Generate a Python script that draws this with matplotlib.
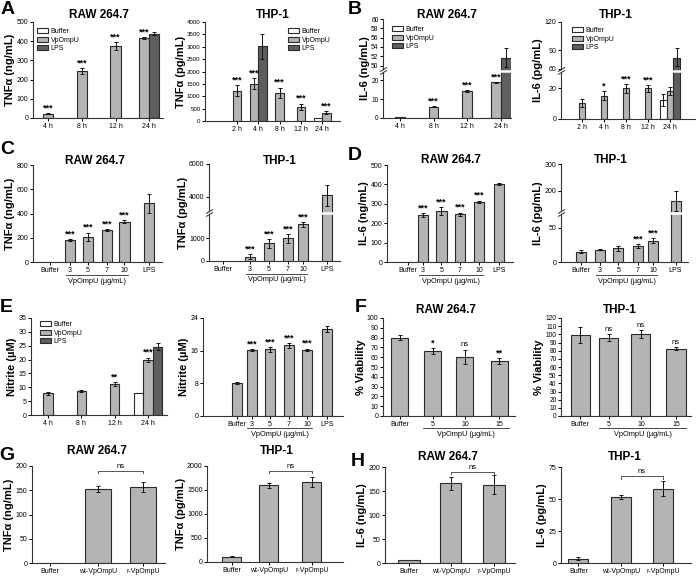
import numpy as np
import matplotlib.pyplot as plt
import matplotlib.transforms as mtransforms
from matplotlib.patches import Patch

plt.rcParams['font.family'] = ['Liberation Sans', 'DejaVu Sans']
plt.rcParams['font.size'] = 5
plt.rcParams['axes.linewidth'] = 0.8
plt.rcParams['axes.edgecolor'] = '#333333'
plt.rcParams['xtick.major.size'] = 2
plt.rcParams['ytick.major.size'] = 2
plt.rcParams['xtick.major.width'] = 0.7
plt.rcParams['ytick.major.width'] = 0.7
plt.rcParams['xtick.major.pad'] = 1.5
plt.rcParams['ytick.major.pad'] = 1.2
plt.rcParams['xtick.labelsize'] = 5
plt.rcParams['ytick.labelsize'] = 5

W, H = 696, 578
BUF, VP, LPS = 'white', '#b4b4b4', '#5e5e5e'
EDGE = '#2b2b2b'
nan = np.nan

# ---------------- data ----------------
time4 = ['4 h', '8 h', '12 h', '24 h']
time5 = ['2 h', '4 h', '8 h', '12 h', '24 h']
dose6 = ['Buffer', '3', '5', '7', '10', 'LPS']
dose4 = ['Buffer', '5', '10', '15']
mutant = ['Buffer', 'wt-VpOmpU', 'r-VpOmpU']

# A  TNFa time course
a_raw_vp = [23, 245, 375, 415]
a_raw_vp_err = [3, 16, 20, 5]
a_raw_lps = [nan, nan, nan, 438]
a_raw_lps_err = [0, 0, 0, 8]
a_thp_buf = [nan, nan, nan, nan, 130]
a_thp_buf_err = [0, 0, 0, 0, 0]
a_thp_vp = [1220, 1500, 1130, 580, 330]
a_thp_vp_err = [220, 220, 220, 120, 60]
a_thp_lps = [nan, 3020, nan, nan, nan]
a_thp_lps_err = [0, 500, 0, 0, 0]

# B  IL-6 time course
b_raw_buf = [nan, nan, nan, 0.2]
b_raw_vp = [0.3, 5.9, 14.2, 19.0]
b_raw_vp_err = [0, 0.3, 0.6, 0.2]
b_raw_lps = [nan, nan, nan, 51.7]
b_raw_lps_err = [0, 0, 0, 2.0]
b_thp_buf = [nan, nan, nan, nan, 12.4]
b_thp_buf_err = [0, 0, 0, 0, 3.8]
b_thp_vp = [10.6, 15.2, 20.0, 20.0, 18.3]
b_thp_vp_err = [2.5, 3.0, 2.8, 2.4, 2.5]
b_thp_lps = [nan, nan, nan, nan, 78]
b_thp_lps_err = [0, 0, 0, 0, 14]

# C  TNFa dose response
c_raw = [nan, 178, 207, 265, 331, 483]
c_raw_err = [0, 8, 35, 6, 12, 80]
c_thp = [nan, 190, 780, 1000, 1620, 4080]
c_thp_err = [0, 120, 190, 190, 100, 650]

# D  IL-6 dose response
d_raw = [2, 241, 262, 247, 310, 403]
d_raw_err = [0, 11, 19, 8, 6, 5]
d_thp = [15, 18, 20, 22.8, 31, 161]
d_thp_err = [2.4, 1.0, 3.4, 2.7, 4.0, 39]

# E  nitrite
e_raw_buf = [nan, nan, nan, 8.1]
e_raw_vp = [7.8, 8.7, 11.2, 19.9]
e_raw_vp_err = [0.5, 0.5, 0.8, 0.8]
e_raw_lps = [nan, nan, nan, 24.7]
e_raw_lps_err = [0, 0, 0, 1.2]
e_dose = [8.1, 16.2, 16.3, 17.3, 16.2, 21.3]
e_dose_err = [0.2, 0.2, 0.6, 0.6, 0.3, 0.8]

# F  viability
f_raw = [80, 66, 60.5, 56]
f_raw_err = [2.5, 3, 7, 2.8]
f_thp = [99, 96, 100.4, 82.4]
f_thp_err = [10, 4, 4.5, 1.6]

# G / H  wt vs recombinant
g_raw = [1, 153, 157]
g_raw_err = [0, 6, 10]
g_thp = [110, 1600, 1665]
g_thp_err = [15, 50, 110]
h_raw = [7, 166, 163]
h_raw_err = [0, 14, 20]
h_thp = [3.5, 51.5, 58]
h_thp_err = [1.2, 1.5, 6]

fig = plt.figure(figsize=(W / 100, H / 100), dpi=100)


def panel(box, cats, pos, xlim, bw, series, ylim, yticks, ylabel,
          marks=(), scale=None, brk=None, dose=None, bracket=None, shift=None, tick_fs=5):
    x0, y0, x1, y1 = box
    ax = fig.add_axes([x0 / W, 1 - y1 / H, (x1 - x0) / W, (y1 - y0) / H])
    if scale is not None:
        xs, fs = scale
        ax.set_yscale('function',
                      functions=(lambda y, xs=xs, fs=fs: np.interp(y, xs, fs),
                                 lambda f, xs=xs, fs=fs: np.interp(f, fs, xs)))
    shift = shift or {}
    tops = {}
    for i in range(len(cats)):
        present = [k for k, s in enumerate(series) if not np.isnan(s[0][i])]
        for j, k in enumerate(present):
            vals, errs, color = series[k]
            x = pos[i] + (j - (len(present) - 1) / 2 + shift.get(i, 0)) * bw
            ax.bar(x, vals[i], bw, color=color, edgecolor=EDGE, linewidth=0.8, zorder=2)
            if errs[i] > 0:
                ax.errorbar(x, vals[i], yerr=errs[i], fmt='none', ecolor='#111111',
                            elinewidth=0.7, capsize=1.5, capthick=0.7, zorder=3)
            tops[(i, k)] = (x, vals[i] + errs[i])
    for i, k, txt in marks:
        x, t = tops[(i, k)]
        star = txt.startswith('*')
        ax.annotate(txt, (x, t), xytext=(0, 0.5 if star else 1), textcoords='offset points',
                    ha='center', va='bottom', fontsize=6.5 if star else 5.5,
                    fontweight='bold' if star else 'normal', zorder=5)
    ax.set_xlim(*xlim)
    ax.set_ylim(*ylim)
    ax.set_xticks(pos)
    ax.set_xticklabels(cats)
    ax.set_yticks(yticks)
    ax.set_yticklabels([str(t) for t in yticks], fontsize=tick_fs)
    for s in ('top', 'right'):
        ax.spines[s].set_visible(False)
    ax.set_ylabel(ylabel, fontsize=8, fontweight='bold', labelpad=1)
    if brk is not None:
        ax.axhline(brk, color='white', lw=1.8, zorder=4)
        for dy in (-1.4, 1.4):
            tr = mtransforms.offset_copy(ax.get_yaxis_transform(), fig=fig, y=dy, units='dots')
            ax.plot([0], [brk], marker=[(-1, -0.6), (1, 0.6)], ms=5, mew=0.7, mfc='none',
                    color=EDGE, transform=tr, clip_on=False, zorder=6)
    if dose is not None:
        i0, i1, ext, dl, dt = dose
        tr = mtransforms.offset_copy(ax.get_xaxis_transform(), fig=fig, y=-dl, units='dots')
        ax.plot([pos[i0] - ext, pos[i1] + ext], [0, 0], color=EDGE, lw=0.6,
                transform=tr, clip_on=False)
        trt = mtransforms.offset_copy(ax.get_xaxis_transform(), fig=fig, y=-dt, units='dots')
        ax.text((pos[i0] + pos[i1]) / 2, 0, 'VpOmpU (\u00b5g/mL)', transform=trt,
                ha='center', va='center', fontsize=5.3)
    if bracket is not None:
        i0, i1, yb, d = bracket
        ax.plot([pos[i0], pos[i0], pos[i1], pos[i1]], [yb - d, yb, yb, yb - d],
                color='#555555', lw=0.7, clip_on=False)
        ax.annotate('ns', ((pos[i0] + pos[i1]) / 2, yb), xytext=(0, 0.5),
                    textcoords='offset points', ha='center', va='bottom', fontsize=5.5)
    return ax


def legend(ax, xpx, ypx):
    handles = [Patch(facecolor=c, edgecolor=EDGE, linewidth=0.8) for c in (BUF, VP, LPS)]
    ax.legend(handles, ['Buffer', 'VpOmpU', 'LPS'], loc='upper left',
              bbox_to_anchor=(xpx / W, 1 - ypx / H), bbox_transform=fig.transFigure,
              frameon=False, fontsize=5, handlelength=1.6, handleheight=0.75,
              labelspacing=0.22, handletextpad=0.35, borderpad=0, borderaxespad=0)


def title(txt, x, y):
    fig.text(x / W, 1 - y / H, txt, ha='center', va='center', fontsize=8.5, fontweight='bold')


def letter(txt, x, y):
    fig.text(x / W, 1 - y / H, txt, ha='center', va='center', fontsize=14, fontweight='bold')


TNF_NG = 'TNF\u03b1 (ng/mL)'
TNF_PG = 'TNF\u03b1 (pg/mL)'

# ---- A ----
ax = panel((33, 22, 163, 118), time4, [0, 1, 2, 3], (-0.45, 3.41), 0.3,
           [(a_raw_vp, a_raw_vp_err, VP), (a_raw_lps, a_raw_lps_err, LPS)],
           (0, 500), [0, 100, 200, 300, 400, 500], TNF_NG,
           marks=[(0, 0, '***'), (1, 0, '***'), (2, 0, '***'), (3, 0, '***')])
legend(ax, 37, 28)
ax = panel((205, 22, 340, 121), time5, [0, 1, 2, 3, 4], (-1.5, 4.84), 0.4,
           [(a_thp_buf, a_thp_buf_err, BUF), (a_thp_vp, a_thp_vp_err, VP),
            (a_thp_lps, a_thp_lps_err, LPS)],
           (0, 4000), list(range(0, 4001, 500)), TNF_PG,
           marks=[(i, 1, '***') for i in range(5)], tick_fs=4.4)
legend(ax, 288, 28)

# ---- B ----
ax = panel((383, 19, 511, 118), time4, [0, 1, 2, 3], (-0.5, 3.3), 0.29,
           [(b_raw_buf, [0] * 4, BUF), (b_raw_vp, b_raw_vp_err, VP),
            (b_raw_lps, b_raw_lps_err, LPS)],
           (0, 60), [0, 10, 20, 50, 52, 54, 56, 58, 60], 'IL-6 (ng/mL)',
           marks=[(1, 1, '***'), (2, 1, '***'), (3, 1, '***')],
           scale=([0, 20, 25, 49, 60], [0, 113, 141, 144, 298]), brk=37,
           shift={3: -0.5}, tick_fs=4.8)
legend(ax, 392, 26)
ax = panel((561, 22, 695, 119), time5, [0, 1, 2, 3, 4], (-0.95, 5.14), 0.3,
           [(b_thp_buf, b_thp_buf_err, BUF), (b_thp_vp, b_thp_vp_err, VP),
            (b_thp_lps, b_thp_lps_err, LPS)],
           (0, 120), [0, 20, 60, 90, 120], 'IL-6 (pg/mL)',
           marks=[(1, 1, '*'), (2, 1, '***'), (3, 1, '***')],
           scale=([0, 20, 30, 60, 90, 120], [0, 92, 138, 152, 207, 292]), brk=45)
legend(ax, 572, 27)

# ---- C ----
panel((33, 165, 162, 262), dose6, [0, 1.01, 1.92, 2.88, 3.76, 5], (-0.86, 5.66), 0.52,
      [(c_raw, c_raw_err, VP)], (0, 800), [0, 200, 400, 600, 800], TNF_NG,
      marks=[(i, 0, '***') for i in range(1, 5)], dose=(1, 4, 0.2, 13, 19))
panel((209, 164, 340, 261), dose6, [0, 1.29, 2.2, 3.11, 3.83, 5], (-0.67, 5.6), 0.48,
      [(c_thp, c_thp_err, VP)], (0, 6000), [0, 1000, 4000, 6000], TNF_PG,
      marks=[(i, 0, '***') for i in range(1, 5)], dose=(1, 4, 0.2, 13, 19),
      scale=([0, 2000, 3100, 4000, 6000], [0, 136, 149, 193, 291]), brk=2800)

# ---- D ----
panel((387, 165, 513, 262), dose6, [0, 0.82, 1.84, 2.86, 3.9, 5], (-1.15, 5.77), 0.58,
      [(d_raw, d_raw_err, VP)], (0, 500), [0, 100, 200, 300, 400, 500], 'IL-6 (ng/mL)',
      marks=[(i, 0, '***') for i in range(1, 5)], dose=(1, 4, 0.2, 13, 19))
panel((561, 164, 688, 262), dose6, [0, 1.01, 1.98, 3.01, 3.81, 5], (-1.06, 5.66), 0.53,
      [(d_thp, d_thp_err, VP)], (0, 300), [0, 50, 200, 300], 'IL-6 (pg/mL)',
      marks=[(3, 0, '***'), (4, 0, '***')], dose=(1, 4, 0.2, 13, 19),
      scale=([0, 70, 120, 200, 300], [0, 144, 150, 213, 293]), brk=95)

# ---- E ----
ax = panel((31, 318, 167, 415), time4, [0, 1, 2, 3], (-0.51, 3.57), 0.285,
           [(e_raw_buf, [0] * 4, BUF), (e_raw_vp, e_raw_vp_err, VP),
            (e_raw_lps, e_raw_lps_err, LPS)],
           (0, 35), list(range(0, 36, 5)), 'Nitrite (\u00b5M)',
           marks=[(2, 1, '**'), (3, 1, '***')])
legend(ax, 40, 321)
panel((203, 318, 343, 416), dose6, [0, 0.83, 1.83, 2.89, 3.89, 5], (-1.89, 5.89), 0.6,
      [(e_dose, e_dose_err, VP)], (0, 24), [0, 8, 16, 24], 'Nitrite (\u00b5M)',
      marks=[(i, 0, '***') for i in range(1, 5)], dose=(1, 4, 0.25, 12, 18))

# ---- F ----
panel((383, 318, 515, 416), dose4, [0, 1, 1.97, 3], (-0.5, 3.48), 0.51,
      [(f_raw, f_raw_err, VP)], (0, 100), list(range(0, 101, 10)), '% Viability',
      marks=[(1, 0, '*'), (2, 0, 'ns'), (3, 0, '**')], dose=(1, 3, 0.3, 12, 18))
panel((561, 318, 691, 416), dose4, [0, 0.9, 1.9, 3], (-0.6, 3.47), 0.6,
      [(f_thp, f_thp_err, VP)], (0, 120), list(range(0, 121, 10)), '% Viability',
      marks=[(1, 0, 'ns'), (2, 0, 'ns'), (3, 0, 'ns')], dose=(1, 3, 0.3, 12, 18),
      tick_fs=4.8)

# ---- G ----
panel((32, 466, 165, 563), mutant, [0, 1.03, 2], (-0.39, 2.47), 0.57,
      [(g_raw, g_raw_err, VP)], (0, 200), [0, 50, 100, 150, 200], TNF_NG,
      bracket=(1, 2, 190, 5))
panel((207, 466, 343, 562), mutant, [0, 0.92, 2], (-0.62, 2.78), 0.48,
      [(g_thp, g_thp_err, VP)], (0, 2000), [0, 500, 1000, 1500, 2000], TNF_PG,
      bracket=(1, 2, 1900, 55))

# ---- H ----
panel((385, 467, 515, 563), mutant, [0, 0.98, 2], (-0.56, 2.49), 0.5,
      [(h_raw, h_raw_err, VP)], (0, 200), [0, 50, 100, 150, 200], 'IL-6 (ng/mL)',
      bracket=(1, 2, 190, 5))
panel((561, 467, 691, 563), mutant, [0, 1, 2], (-0.41, 2.66), 0.47,
      [(h_thp, h_thp_err, VP)], (0, 75), [0, 25, 50, 75], 'IL-6 (pg/mL)',
      bracket=(1, 2, 68, 2))

# titles and panel letters
for txt, x, y in [('RAW 264.7', 99, 15), ('THP-1', 273, 15), ('RAW 264.7', 447, 15),
                  ('THP-1', 616, 15), ('RAW 264.7', 95, 161), ('THP-1', 280, 161),
                  ('RAW 264.7', 451, 160), ('THP-1', 611, 160), ('RAW 264.7', 446, 310),
                  ('THP-1', 620, 310), ('RAW 264.7', 97, 451), ('THP-1', 277, 451),
                  ('RAW 264.7', 448, 457), ('THP-1', 625, 457)]:
    title(txt, x, y)
for txt, x, y in [('A', 8, 10), ('B', 355, 9), ('C', 7, 150), ('D', 355, 155),
                  ('E', 6, 307), ('F', 361, 307), ('G', 7, 455), ('H', 358, 462)]:
    letter(txt, x, y)

fig.savefig('out.png', dpi=100)
